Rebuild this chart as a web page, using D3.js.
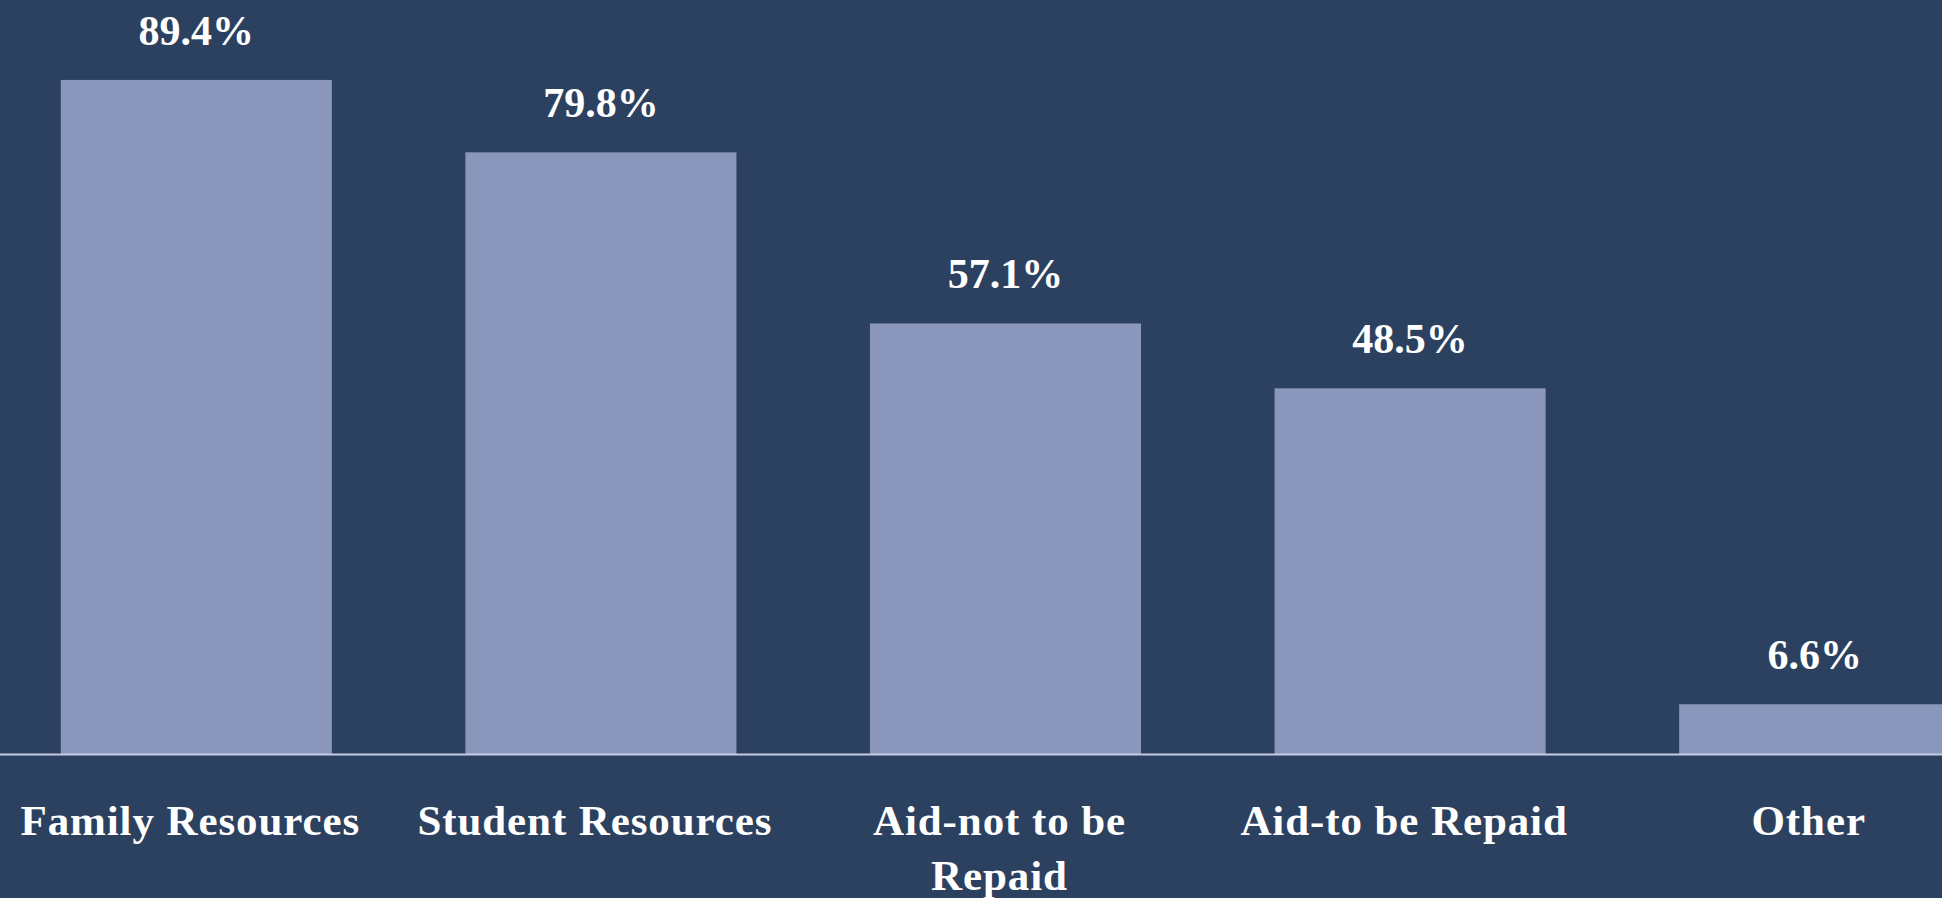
<!DOCTYPE html>
<html>
<head>
<meta charset="utf-8">
<script src="https://cdn.jsdelivr.net/npm/d3@7"></script>
<style>
  html, body { margin: 0; padding: 0; background: #2c4160; overflow: hidden; }
  svg { display: block; }
  .value { font-family: "Liberation Serif", serif; font-weight: bold; fill: #ffffff; }
  .cat { font-family: "Liberation Serif", serif; font-weight: bold; fill: #ffffff; }
</style>
</head>
<body>
<svg id="chart"></svg>
<script>
const categories = ["Family Resources", "Student Resources", "Aid-not to be Repaid", "Aid-to be Repaid", "Other"];
const values = [89.4, 79.8, 57.1, 48.5, 6.6];

const width = 1942;
const height = 898;
const baseY = 754;

const svg = d3.select("#chart")
    .attr("width", width)
    .attr("height", height);

const data = categories.map((c, i) => ({ category: c, value: values[i] }));

const xScale = d3.scaleBand()
    .domain(categories)
    .range([-6, 2017])
    .paddingInner(0.33)
    .paddingOuter(0.165);

const yScale = d3.scaleLinear()
    .domain([0, 100])
    .range([baseY, 0]);

svg.selectAll("rect.bar")
    .data(data)
    .join("rect")
    .attr("class", "bar")
    .attr("x", d => xScale(d.category))
    .attr("y", d => yScale(d.value))
    .attr("width", xScale.bandwidth())
    .attr("height", d => yScale(0) - yScale(d.value))
    .style("fill", "#8a96bb");

// baseline
svg.append("line")
    .attr("x1", 0)
    .attr("x2", width)
    .attr("y1", yScale(0) + 0.5)
    .attr("y2", yScale(0) + 0.5)
    .style("stroke", "#c5cbe0")
    .style("stroke-width", 2);

svg.selectAll("text.value")
    .data(data)
    .join("text")
    .attr("class", "value")
    .attr("text-anchor", "middle")
    .attr("x", d => xScale(d.category) + xScale.bandwidth() / 2)
    .attr("y", d => yScale(d.value) - 35)
    .style("font-size", "42px")
    .text(d => `${d.value.toFixed(1)}%`);

// category labels, wrapped like the original
const axis = svg.append("g")
    .attr("class", "axis x-axis")
    .attr("transform", `translate(0,${baseY})`)
    .call(d3.axisBottom(xScale).tickSize(0).tickPadding(0));

axis.select(".domain").remove();

axis.selectAll("text")
    .attr("class", "cat")
    .attr("fill", null)
    .attr("dy", null)
    .attr("y", 81)
    .style("font-size", "43px")
    .style("letter-spacing", "0.9px")
    .each(function () { wrap(d3.select(this), 390); });

function wrap(text, maxWidth) {
  const words = text.text().split(/\s+/);
  const x = text.attr("x") || 0;
  const y = text.attr("y");
  text.text(null);
  let line = [];
  let lineNo = 0;
  let tspan = text.append("tspan").attr("x", x).attr("dx", -6).attr("y", y);
  words.forEach(w => {
    line.push(w);
    tspan.text(line.join(" "));
    if (tspan.node().getComputedTextLength() > maxWidth && line.length > 1) {
      line.pop();
      tspan.text(line.join(" "));
      line = [w];
      lineNo++;
      tspan = text.append("tspan").attr("x", x).attr("dx", -6)
          .attr("y", +y + lineNo * 55).text(w);
    }
  });
}
</script>
</body>
</html>
